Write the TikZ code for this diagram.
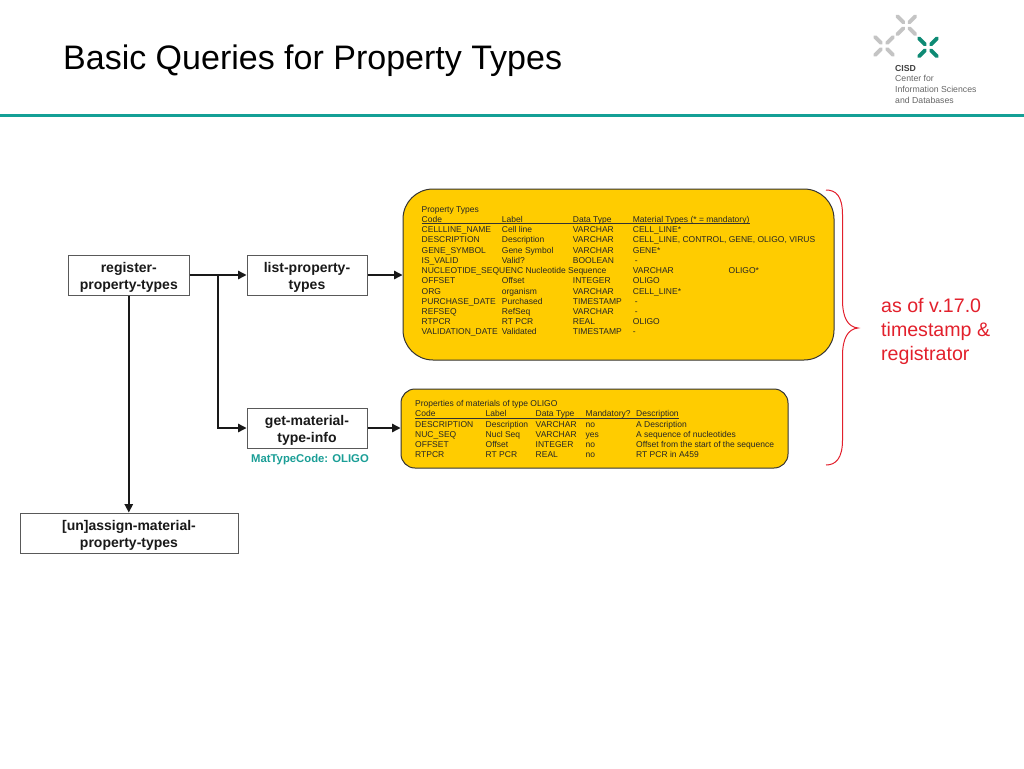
\documentclass[tikz,border=0pt]{standalone}
\usepackage{fontspec}
\setmainfont{Liberation Sans}
\usetikzlibrary{arrows.meta}
\definecolor{goldfill}{HTML}{FFCC00}
\definecolor{tealrule}{HTML}{14A096}
\definecolor{tealtext}{HTML}{1A9E96}
\definecolor{bracered}{HTML}{E2202C}
\definecolor{logogreen}{HTML}{0E8A74}
\definecolor{logogrey}{HTML}{C4C4C4}
\newcounter{cellno}
\newcommand{\cellat}[3]{\stepcounter{cellno}\node[tablecell] (cell\arabic{cellno}) at (#1,#2+3) {#3};}
\newcommand{\logocross}[3]{%
  \draw[line width=3.9pt,line cap=round,#3] (#1-9,#2-9) -- (#1-2.9,#2-2.9);
  \draw[line width=3.9pt,line cap=round,#3] (#1+9,#2-9) -- (#1+2.9,#2-2.9);
  \draw[line width=3.9pt,line cap=round,#3] (#1-9,#2+9) -- (#1-2.9,#2+2.9);
  \draw[line width=3.9pt,line cap=round,#3] (#1+9,#2+9) -- (#1+2.9,#2+2.9);
}
\newcommand{\lowline}[1]{\raisebox{-2.5pt}[\height][\depth]{#1}}
\tikzset{
  procbox/.style={draw=black!65,line width=1pt,fill=white,inner sep=0pt,align=center,
    font=\fontsize{14}{16.7}\selectfont\bfseries,text=black!90},
  goldbox/.style={draw=black!80,line width=1pt,fill=goldfill,inner sep=0pt},
  tablecell/.style={anchor=base west,inner sep=0pt,font=\fontsize{8.5}{10}\selectfont,text=black!85},
  flow/.style={draw=black!90,line width=1.4pt,-{Triangle[length=8.5pt,width=8.5pt]}},
  headrule/.style={draw=black!80,line width=0.7pt},
  logotext/.style={anchor=base west,inner sep=0pt,font=\fontsize{8.7}{10}\selectfont,text=black!60},
}
\begin{document}
\begin{tikzpicture}[x=1pt,y=-1pt]
\useasboundingbox (0,0) rectangle (1024,768);
% header
\node[anchor=base west,inner sep=0pt,font=\fontsize{34}{40}\selectfont,text=black] (title) at (63,69) {Basic Queries for Property Types};
\draw[tealrule,line width=3pt] (0,115.5) -- (1024,115.5);
% logo
\logocross{906.3}{25.3}{logogrey}
\logocross{884}{46}{logogrey}
\logocross{928}{47.3}{logogreen}
\node[logotext,font=\fontsize{8.7}{10}\selectfont\bfseries,text=black!75] (logoa) at (895,71) {CISD};
\node[logotext] (logob) at (895,81.5) {Center for};
\node[logotext] (logoc) at (895,92.5) {Information Sciences};
\node[logotext] (logod) at (895,103) {and Databases};
% gold panels
\node[goldbox,rounded corners=30pt,minimum width=431pt,minimum height=171pt] (panelA) at (618.5,274.5) {};
\node[goldbox,rounded corners=14pt,minimum width=387pt,minimum height=79pt] (panelB) at (594.5,428.5) {};
% process boxes
\node[procbox,minimum width=121pt,minimum height=40pt] (register) at (128.8,275) {\lowline{register-}\\\lowline{property-types}};
\node[procbox,minimum width=120pt,minimum height=40pt] (list) at (307,275) {\lowline{list-property-}\\\lowline{types}};
\node[procbox,minimum width=120pt,minimum height=40pt] (get) at (307,428) {\lowline{get-material-}\\\lowline{type-info}};
\node[procbox,minimum width=218pt,minimum height=40pt] (unassign) at (129,533) {\lowline{[un]assign-material-}\\\lowline{property-types}};
\node[inner sep=0pt,font=\fontsize{11.3}{13}\selectfont\bfseries,text=tealtext] (mattype) at (310,460) {MatTypeCode: OLIGO};
% connectors
\coordinate (branch) at (218,275);
\draw[flow] (register.east) -- (list.west);
\draw[flow] (branch) |- (get.west);
\draw[flow] (register.south) -- (unassign.north -| register.south);
\draw[flow] (list.east) -- (list.east -| panelA.west);
\draw[flow] (get.east) -- (get.east -| panelB.west);
% panel A table
\cellat{421.5}{209}{Property Types}
\cellat{421.5}{219.3}{Code}\cellat{501.7}{219.3}{Label}\cellat{572.7}{219.3}{Data Type}\cellat{632.7}{219.3}{Material Types (* = mandatory)}
\coordinate (ruleAa) at (421.5,223.6);
\coordinate (ruleAb) at (749.5,223.6);
\draw[headrule] (ruleAa) -- (ruleAb);
\cellat{421.5}{229.5}{CELLLINE\_NAME}\cellat{501.7}{229.5}{Cell line}\cellat{572.7}{229.5}{VARCHAR}\cellat{632.7}{229.5}{CELL\_LINE*}
\cellat{421.5}{239.7}{DESCRIPTION}\cellat{501.7}{239.7}{Description}\cellat{572.7}{239.7}{VARCHAR}\cellat{632.7}{239.7}{CELL\_LINE, CONTROL, GENE, OLIGO, VIRUS}
\cellat{421.5}{250}{GENE\_SYMBOL}\cellat{501.7}{250}{Gene Symbol}\cellat{572.7}{250}{VARCHAR}\cellat{632.7}{250}{GENE*}
\cellat{421.5}{260.2}{IS\_VALID}\cellat{501.7}{260.2}{Valid?}\cellat{572.7}{260.2}{BOOLEAN}\cellat{634.7}{260.2}{-}
\cellat{421.5}{270.4}{NUCLEOTIDE\_SEQUENC Nucleotide Sequence}\cellat{632.7}{270.4}{VARCHAR}\cellat{728.5}{270.4}{OLIGO*}
\cellat{421.5}{280.7}{OFFSET}\cellat{501.7}{280.7}{Offset}\cellat{572.7}{280.7}{INTEGER}\cellat{632.7}{280.7}{OLIGO}
\cellat{421.5}{291}{ORG}\cellat{501.7}{291}{organism}\cellat{572.7}{291}{VARCHAR}\cellat{632.7}{291}{CELL\_LINE*}
\cellat{421.5}{301.1}{PURCHASE\_DATE}\cellat{501.7}{301.1}{Purchased}\cellat{572.7}{301.1}{TIMESTAMP}\cellat{634.7}{301.1}{-}
\cellat{421.5}{311.3}{REFSEQ}\cellat{501.7}{311.3}{RefSeq}\cellat{572.7}{311.3}{VARCHAR}\cellat{634.7}{311.3}{-}
\cellat{421.5}{321.4}{RTPCR}\cellat{501.7}{321.4}{RT PCR}\cellat{572.7}{321.4}{REAL}\cellat{632.7}{321.4}{OLIGO}
\cellat{421.5}{331.7}{VALIDATION\_DATE}\cellat{501.7}{331.7}{Validated}\cellat{572.7}{331.7}{TIMESTAMP}\cellat{632.7}{331.7}{-}
% panel B table
\cellat{415}{403.3}{Properties of materials of type OLIGO}
\cellat{415}{413.7}{Code}\cellat{485.5}{413.7}{Label}\cellat{535.5}{413.7}{Data Type}\cellat{585.5}{413.7}{Mandatory?}\cellat{636}{413.7}{Description}
\coordinate (ruleBa) at (415,418);
\coordinate (ruleBb) at (678.5,418);
\draw[headrule] (ruleBa) -- (ruleBb);
\cellat{415}{424}{DESCRIPTION}\cellat{485.5}{424}{Description}\cellat{535.5}{424}{VARCHAR}\cellat{585.5}{424}{no}\cellat{636}{424}{A Description}
\cellat{415}{434.3}{NUC\_SEQ}\cellat{485.5}{434.3}{Nucl Seq}\cellat{535.5}{434.3}{VARCHAR}\cellat{585.5}{434.3}{yes}\cellat{636}{434.3}{A sequence of nucleotides}
\cellat{415}{444.6}{OFFSET}\cellat{485.5}{444.6}{Offset}\cellat{535.5}{444.6}{INTEGER}\cellat{585.5}{444.6}{no}\cellat{636}{444.6}{Offset from the start of the sequence}
\cellat{415}{454.8}{RTPCR}\cellat{485.5}{454.8}{RT PCR}\cellat{535.5}{454.8}{REAL}\cellat{585.5}{454.8}{no}\cellat{636}{454.8}{RT PCR in A459}
% brace
\draw[bracered,line width=1pt] (826,190) .. controls (836,190) and (842.5,196) .. (842.5,215)
  -- (842.5,300) .. controls (842.5,318) and (848,327) .. (858,328)
  .. controls (848,329) and (842.5,338) .. (842.5,356)
  -- (842.5,440) .. controls (842.5,458) and (836,465) .. (826,465);
\node[anchor=west,inner sep=0pt,align=left,font=\fontsize{19.6}{24}\selectfont,text=bracered] (note) at (881,331) {as of v.17.0\\timestamp \&\\registrator};
\end{tikzpicture}
\end{document}
